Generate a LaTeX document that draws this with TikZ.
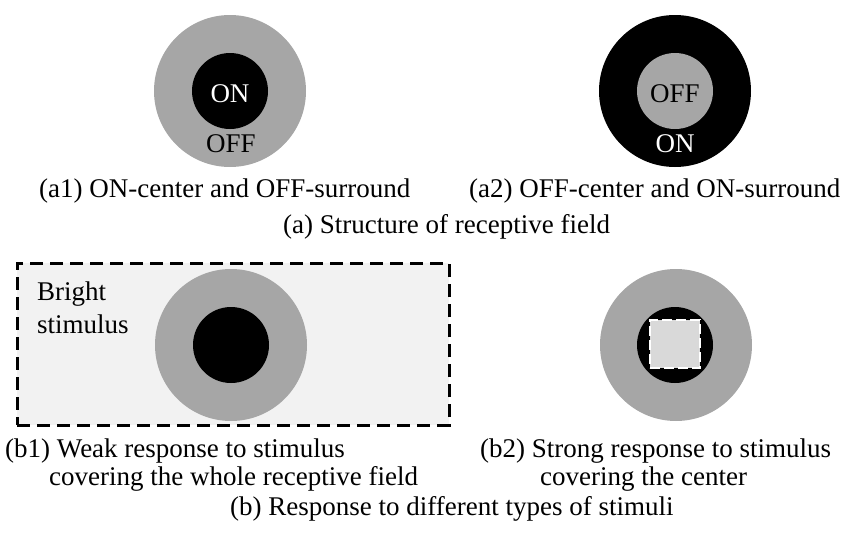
\documentclass[tikz,border=0pt]{standalone}
\usepackage{fontspec}
\setmainfont{Liberation Serif}
\usetikzlibrary{shapes}
\definecolor{surround}{HTML}{A6A6A6}
\definecolor{bright}{HTML}{F2F2F2}
\definecolor{spot}{HTML}{D9D9D9}

\begin{document}
\begin{tikzpicture} [x=1pt,y=-1pt,
  ring/.style= {shape=circle,minimum size=152pt,inner sep=0},
  core/.style= {shape=circle,minimum size=76pt,inner sep=0},
  txt/.style= {font=\fontsize{27}{30}\selectfont,inner sep=0,anchor=base west},
  lbl/.style= {font=\fontsize{27}{30}\selectfont,inner sep=0,anchor=base}]
  \useasboundingbox (0,0) rectangle (855,536);
  % Row a
  {\node[ring] [fill=surround] (a1;out) at (230,91) { };}
  {\node[core] [fill=black]    (a1;in)  at (230,91) { };}
  {\node[ring] [fill=black]    (a2;out) at (675,91) { };}
  {\node[core] [fill=surround] (a2;in)  at (675,91) { };}
  % Row b
  {\node[draw,line width=3pt,dash pattern=on 13pt off 7pt,fill=bright,minimum width=432pt,minimum height=162pt,inner sep=0] (b1;bg) at (233,344) { };}
  {\node[ring] [fill=surround] (b1;out) at (231,345) { };}
  {\node[core] [fill=black]    (b1;in)  at (231,345) { };}
  {\node[ring] [fill=surround] (b2;out) at (676,345) { };}
  {\node[core] [fill=black]    (b2;in)  at (675,345) { };}
  {\node[draw=white,line width=2pt,dash pattern=on 10pt off 4pt,fill=spot,minimum width=50pt,minimum height=48pt,inner sep=0] (b2;spot) at (675,344) { };}
  % Labels a
  {\node[lbl] [text=white] (a1;on)  at (230,102) {ON};}
  {\node[lbl]              (a1;off) at (231,152) {OFF};}
  {\node[lbl]              (a2;off) at (675,102) {OFF};}
  {\node[lbl] [text=white] (a2;on)  at (675,152) {ON};}
  % Labels b
  {\node[txt] (b1;br) at (37,300) {Bright};}
  {\node[txt] (b1;st) at (37,333) {stimulus};}
  % Captions a
  {\node[txt] (cap;a1) at (39,197)  {(a1) ON-center and OFF-surround};}
  {\node[txt] (cap;a2) at (469,197) {(a2) OFF-center and ON-surround};}
  {\node[txt] (cap;a)  at (283,233) {(a) Structure of receptive field};}
  % Captions b
  {\node[txt] (cap;b1) at (5,457)   {(b1) Weak response to stimulus};}
  {\node[txt] (cap;b1x) at (49,485) {covering the whole receptive field};}
  {\node[txt] (cap;b2) at (480,457) {(b2) Strong response to stimulus};}
  {\node[txt] (cap;b2x) at (540,485) {covering the center};}
  {\node[txt] (cap;b)  at (230,515) {(b) Response to different types of stimuli};}
\end{tikzpicture}
\end{document}
